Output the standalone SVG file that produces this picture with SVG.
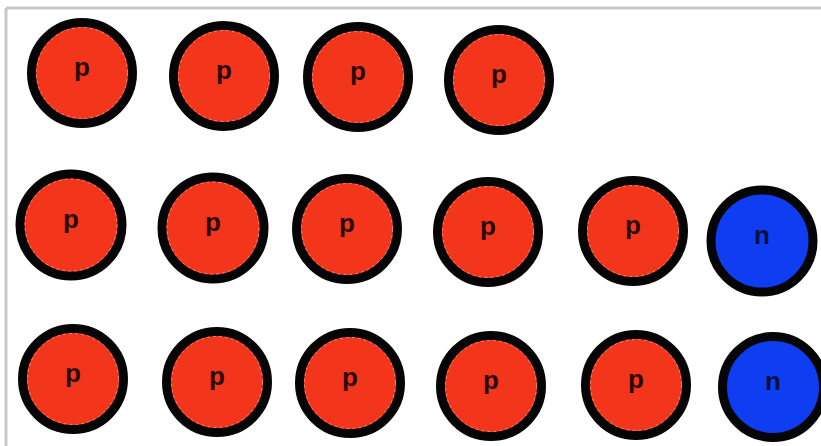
<svg xmlns="http://www.w3.org/2000/svg" width="821" height="446" viewBox="0 0 821 446">
<style>
.ball{stroke:#050505;stroke-width:9}
.p{fill:#f3361b}
.n{fill:#0f3ef2}
.rim{fill:none;stroke:#f59a86;stroke-width:1;stroke-dasharray:3 3;opacity:0.8}
.lbl{font-family:"Liberation Sans",Arial,sans-serif;font-weight:bold;font-size:26px;text-anchor:middle}
.lp{fill:#2a0805}
.ln{fill:#081040}
</style>
<rect width="821" height="446" fill="#ffffff"/>
<g id="frame" stroke="#c8c8c8" stroke-width="3" fill="none">
<line x1="6" y1="8" x2="821" y2="8"/>
<line x1="6" y1="8" x2="6" y2="446"/>
</g>
<g id="connectors"/>
<g id="r1c1"><circle class="ball p" cx="82" cy="73" r="50.5"/><circle class="rim" cx="82" cy="73" r="45.5"/><text class="lbl lp" x="82" y="76">p</text></g>
<g id="r1c2"><circle class="ball p" cx="224" cy="76" r="50.5"/><circle class="rim" cx="224" cy="76" r="45.5"/><text class="lbl lp" x="224" y="79">p</text></g>
<g id="r1c3"><circle class="ball p" cx="358" cy="77" r="50.5"/><circle class="rim" cx="358" cy="77" r="45.5"/><text class="lbl lp" x="358" y="80">p</text></g>
<g id="r1c4"><circle class="ball p" cx="499" cy="80" r="50.5"/><circle class="rim" cx="499" cy="80" r="45.5"/><text class="lbl lp" x="499" y="83">p</text></g>
<g id="r2c1"><circle class="ball p" cx="71" cy="225" r="51"/><circle class="rim" cx="71" cy="225" r="46"/><text class="lbl lp" x="71" y="228">p</text></g>
<g id="r2c2"><circle class="ball p" cx="213" cy="228" r="51"/><circle class="rim" cx="213" cy="228" r="46"/><text class="lbl lp" x="213" y="231">p</text></g>
<g id="r2c3"><circle class="ball p" cx="347" cy="229" r="50.5"/><circle class="rim" cx="347" cy="229" r="45.5"/><text class="lbl lp" x="347" y="232">p</text></g>
<g id="r2c4"><circle class="ball p" cx="488" cy="232" r="50.5"/><circle class="rim" cx="488" cy="232" r="45.5"/><text class="lbl lp" x="488" y="235">p</text></g>
<g id="r2c5"><circle class="ball p" cx="633" cy="231" r="50.5"/><circle class="rim" cx="633" cy="231" r="45.5"/><text class="lbl lp" x="633" y="234">p</text></g>
<g id="r2c6"><circle class="ball n" cx="762" cy="241" r="51"/><text class="lbl ln" x="762" y="244">n</text></g>
<g id="r3c1"><circle class="ball p" cx="73" cy="379" r="50.5"/><circle class="rim" cx="73" cy="379" r="45.5"/><text class="lbl lp" x="73" y="382">p</text></g>
<g id="r3c2"><circle class="ball p" cx="217" cy="382" r="50.5"/><circle class="rim" cx="217" cy="382" r="45.5"/><text class="lbl lp" x="217" y="385">p</text></g>
<g id="r3c3"><circle class="ball p" cx="350" cy="383" r="50.5"/><circle class="rim" cx="350" cy="383" r="45.5"/><text class="lbl lp" x="350" y="386">p</text></g>
<g id="r3c4"><circle class="ball p" cx="491" cy="386" r="50.5"/><circle class="rim" cx="491" cy="386" r="45.5"/><text class="lbl lp" x="491" y="389">p</text></g>
<g id="r3c5"><circle class="ball p" cx="636" cy="385" r="50.5"/><circle class="rim" cx="636" cy="385" r="45.5"/><text class="lbl lp" x="636" y="388">p</text></g>
<g id="r3c6"><circle class="ball n" cx="773" cy="387" r="50.5"/><text class="lbl ln" x="773" y="390">n</text></g>
</svg>
